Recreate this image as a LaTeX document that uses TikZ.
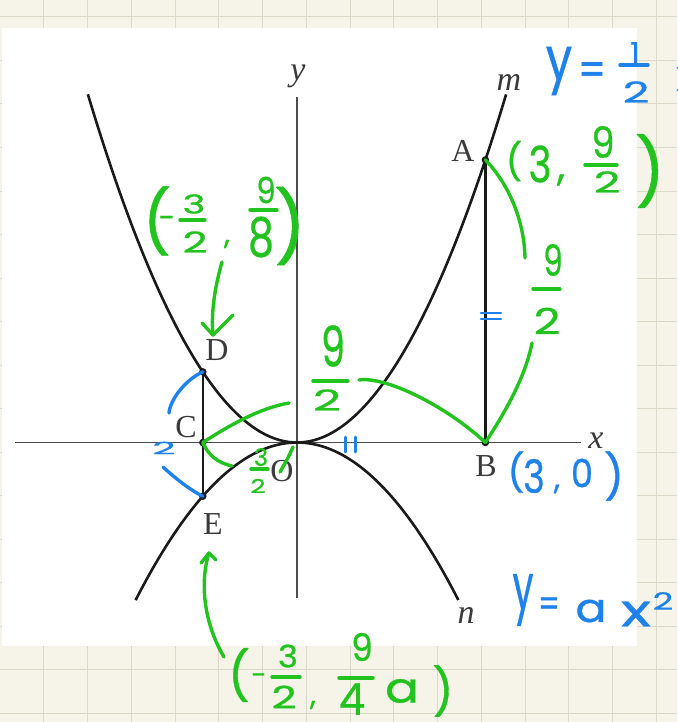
\documentclass[tikz,border=0pt]{standalone}
\usepackage{fontspec}
\setmainfont{Liberation Serif}
\newfontfamily\handfont[FakeBold=0.7]{Poppins}
\newcommand\hs[1]{\handfont\fontsize{#1}{#1}\selectfont}
\newcommand\sx[2]{\scalebox{#1}[1]{#2}}
\definecolor{bgc}{HTML}{F6F4E9}
\definecolor{gridc}{HTML}{DCD9C8}
\definecolor{hgreen}{HTML}{22C31E}
\definecolor{hblue}{HTML}{1F82EA}
\definecolor{inkc}{HTML}{1A1A1A}
\definecolor{lblc}{HTML}{3A3A3A}
\begin{document}
\begin{tikzpicture}[x=1pt,y=-1pt,
  lbl/.style={text=lblc, font=\fontsize{32}{32}\selectfont, inner sep=0pt},
  ilbl/.style={text=lblc, font=\fontsize{34}{34}\selectfont\itshape, inner sep=0pt},
  curve/.style={draw=inkc, line width=2.6pt},
  seg/.style={draw=inkc, line width=2.2pt},
  axis/.style={draw=black!70, line width=1.3pt},
  dot/.style={circle, fill=inkc, inner sep=0pt, minimum size=7.5pt},
  gl/.style={draw=hgreen, line width=3.4pt, line cap=round, line join=round},
  bl/.style={draw=hblue, line width=3.4pt, line cap=round, line join=round},
  gt/.style={text=hgreen, inner sep=0pt},
  bt/.style={text=hblue, inner sep=0pt},
]
\useasboundingbox (0,0) rectangle (677,722);
% paper background with grid
\fill[bgc] (0,0) rectangle (677,722);
\foreach \i in {1,...,15} \draw[gridc, line width=1pt] ({43.75*\i},0) -- ({43.75*\i},722);
\foreach \j in {0,...,16} \draw[gridc, line width=1pt] (0,{17+43.5*\j}) -- (677,{17+43.5*\j});
\fill[white] (2,28) rectangle (637,646);

% axes
\coordinate (xs) at (15,442.5);
\coordinate (xe) at (581,442.5);
\coordinate (ys) at (297,97);
\coordinate (ye) at (297,598);
\draw[axis] (xs) -- (xe);
\draw[axis] (ys) -- (ye);

% parabolas
\draw[curve] plot[domain=-3.33:3.33, samples=121, smooth] ({297+62.8*\x},{442.5-31.4*\x*\x});
\draw[curve] plot[domain=-2.57:2.57, samples=101, smooth] ({297+62.8*\x},{442.5+23.864*\x*\x});

% points
\node[dot] (pA) at (485.4,159.9) {};
\node[dot] (pB) at (485.4,442.5) {};
\node[dot] (pC) at (202.8,442.5) {};
\node[dot] (pD) at (202.8,371.85) {};
\node[dot] (pE) at (202.8,496.2) {};
\draw[seg] (pA.center) -- (pB.center);
\draw[seg] (pD.center) -- (pE.center);

% labels
\node[lbl] (lA) at (463,151) {A};
\node[lbl] (lB) at (486,466) {B};
\node[lbl] (lC) at (186,427) {C};
\node[lbl] (lD) at (217,350) {D};
\node[lbl] (lE) at (213,524) {E};
\node[lbl] (lO) at (282,471) {O};
\node[ilbl] (lx) at (596,441) {x};
\node[ilbl] (ly) at (298,76) {y};
\node[ilbl] (lm) at (509,82) {m};
\node[ilbl] (ln) at (466,615) {n};

% ---- green: (3, 9/2) at A
\node[gt, font=\hs{36}] (g1p) at (514,161) {(};
\node[gt, font=\hs{50}] (g1a) at (540,164) {\sx{0.78}{3}};
\node[gt, font=\hs{40}] (g1c) at (561,180) {,};
\node[gt, font=\hs{43}] (g1n) at (603,142) {\sx{0.85}{9}};
\coordinate (g1b1) at (585,165); \coordinate (g1b2) at (617,165);
\draw[gl] (g1b1) -- (g1b2);
\node[gt, font=\hs{29}] (g1d) at (607,182) {\sx{1.6}{2}};
\node[gt, font=\hs{66}] (g1q) at (650,171) {)};

% ---- green: (-3/2, 9/8) above D
\node[gt, font=\hs{62}] (g2p) at (157,221) {(};
\node[gt, font=\hs{30}] (g2m) at (167,222) {-};
\node[gt, font=\hs{26}] (g2a) at (194,204) {\sx{1.5}{3}};
\coordinate (g2b1) at (180,220); \coordinate (g2b2) at (205,220);
\draw[gl] (g2b1) -- (g2b2);
\node[gt, font=\hs{29}] (g2d) at (195,242) {\sx{1.5}{2}};
\node[gt, font=\hs{30}] (g2c) at (227,244) {,};
\node[gt, font=\hs{36}] (g2n) at (266,190) {\sx{0.85}{9}};
\coordinate (g2c1) at (250,210); \coordinate (g2c2) at (277,210);
\draw[gl] (g2c1) -- (g2c2);
\node[gt, font=\hs{54}] (g2e) at (261,237) {\sx{0.76}{8}};
\node[gt, font=\hs{70}] (g2q) at (290,226) {)};
\coordinate (g2s) at (222,262);
\coordinate (g2t) at (213,335);
\coordinate (g2h1) at (202,323); \coordinate (g2h2) at (233,315);
\draw[gl] (g2s) .. controls (214,290) and (211,315) .. (g2t);
\draw[gl] (g2h1) -- (g2t) -- (g2h2);

% ---- green: 9/2 beside AB
\coordinate (g3a) at (525,258);
\coordinate (g3b) at (532,343);
\draw[gl] (pA.center) .. controls (505,180) and (524,215) .. (g3a);
\node[gt, font=\hs{43}] (g3n) at (553,260) {\sx{0.72}{9}};
\coordinate (g3b1) at (533,289); \coordinate (g3b2) at (560,289);
\draw[gl] (g3b1) -- (g3b2);
\node[gt, font=\hs{36}] (g3d) at (547,321) {\sx{1.3}{2}};
\draw[gl] (g3b) .. controls (525,380) and (500,420) .. (pB.center);

% ---- green: 9/2 between C and B
\coordinate (g4a) at (289,403);
\coordinate (g4b) at (359,380);
\draw[gl] (pC.center) .. controls (230,425) and (260,408) .. (g4a);
\node[gt, font=\hs{56}] (g4n) at (333,346) {\sx{0.68}{9}};
\coordinate (g4b1) at (313,381); \coordinate (g4b2) at (348,381);
\draw[gl] (g4b1) -- (g4b2);
\node[gt, font=\hs{29}] (g4d) at (327,400) {\sx{1.7}{2}};
\draw[gl] (g4b) .. controls (385,376) and (445,405) .. (pB.center);

% ---- green: 3/2 between C and O
\coordinate (g5a) at (232,466);
\draw[gl] (pC.center) .. controls (208,455) and (218,463) .. (g5a);
\node[gt, font=\hs{24}] (g5n) at (261,457) {3};
\coordinate (g5b1) at (251,469); \coordinate (g5b2) at (268,469);
\draw[gl] (g5b1) -- (g5b2);
\node[gt, font=\hs{19}] (g5d) at (258,486) {\sx{1.4}{2}};
\coordinate (g5s) at (293,447); \coordinate (g5e) at (280,472);
\draw[gl] (g5s) .. controls (288,458) .. (g5e);

% ---- green: (-3/2, 9/4 a) below E
\node[gt, font=\hs{48}] (g6p) at (239,675) {(};
\node[gt, font=\hs{28}] (g6m) at (259,679) {-};
\node[gt, font=\hs{31}] (g6a) at (288,656) {\sx{1.1}{3}};
\coordinate (g6b1) at (272,677); \coordinate (g6b2) at (300,677);
\draw[gl] (g6b1) -- (g6b2);
\node[gt, font=\hs{31}] (g6d) at (284,697) {\sx{1.4}{2}};
\node[gt, font=\hs{30}] (g6c) at (313,705) {,};
\node[gt, font=\hs{38}] (g6n) at (362,647) {\sx{0.9}{9}};
\coordinate (g6c1) at (339,678); \coordinate (g6c2) at (373,678);
\draw[gl] (g6c1) -- (g6c2);
\node[gt, font=\hs{44}] (g6e) at (352,699) {\sx{0.95}{4}};
\node[gt, font=\hs{42}] (g6f) at (402,691) {\sx{1.2}{a}};
\node[gt, font=\hs{46}] (g6q) at (443,691) {)};
\coordinate (g6s) at (224,657);
\coordinate (g6t) at (209,553);
\coordinate (g6h1) at (201,563); \coordinate (g6h2) at (216,560);
\draw[gl] (g6s) .. controls (205,625) and (199,585) .. (g6t);
\draw[gl] (g6h1) -- (g6t) -- (g6h2);

% ---- blue: y = 1/2 x^2 (cut by the edge)
\node[bt, font=\hs{60}] (b1y) at (559,71) {\sx{0.78}{y}};
\node[bt, font=\hs{46}] (b1e) at (592,74) {\sx{0.85}{=}};
\node[bt, font=\hs{30}] (b1n) at (635,53) {1};
\coordinate (b1b1) at (620,65); \coordinate (b1b2) at (648,65);
\draw[bl] (b1b1) -- (b1b2);
\node[bt, font=\hs{29}] (b1d) at (636,92) {\sx{1.6}{2}};
\node[bt, font=\hs{42}] (b1x) at (689,79) {\sx{1.3}{x}};

% ---- blue: marks
\coordinate (bm1) at (481,313); \coordinate (bm2) at (501,313);
\coordinate (bm3) at (481,319); \coordinate (bm4) at (501,319);
\draw[bl, line width=2.6pt] (bm1) -- (bm2);
\draw[bl, line width=2.6pt] (bm3) -- (bm4);
\coordinate (bt1) at (345,437); \coordinate (bt2) at (345,452);
\coordinate (bt3) at (355,437); \coordinate (bt4) at (355,452);
\draw[bl, line width=3pt] (bt1) -- (bt2);
\draw[bl, line width=3pt] (bt3) -- (bt4);

% ---- blue: 2 with arcs at DE
\node[bt, font=\hs{17}] (b2) at (164,448) {\sx{2.4}{2}};
\coordinate (ba1) at (169,413);
\coordinate (ba2) at (163,467);
\draw[bl] (pD.center) .. controls (185,380) and (170,400) .. (ba1);
\draw[bl] (ba2) .. controls (175,478) and (190,490) .. (pE.center);

% ---- blue: (3,0)
\node[bt, font=\hs{37}] (b3p) at (516,472) {(};
\node[bt, font=\hs{46}] (b3a) at (534,476) {\sx{0.8}{3}};
\node[bt, font=\hs{32}] (b3c) at (557,489) {,};
\node[bt, font=\hs{39}] (b3b) at (582,473) {\sx{0.9}{0}};
\node[bt, font=\hs{44}] (b3q) at (614,476) {)};

% ---- blue: y = a x^2
\node[bt, font=\hs{64}] (b4y) at (523,600) {\sx{0.58}{y}};
\node[bt, font=\hs{38}] (b4e) at (549,607) {\sx{0.8}{=}};
\node[bt, font=\hs{40}] (b4a) at (591,611) {\sx{1.15}{a}};
\node[bt, font=\hs{45}] (b4x) at (636,614) {\sx{1.4}{x}};
\node[bt, font=\hs{24}] (b4s) at (663,601) {\sx{1.5}{2}};
\end{tikzpicture}
\end{document}
